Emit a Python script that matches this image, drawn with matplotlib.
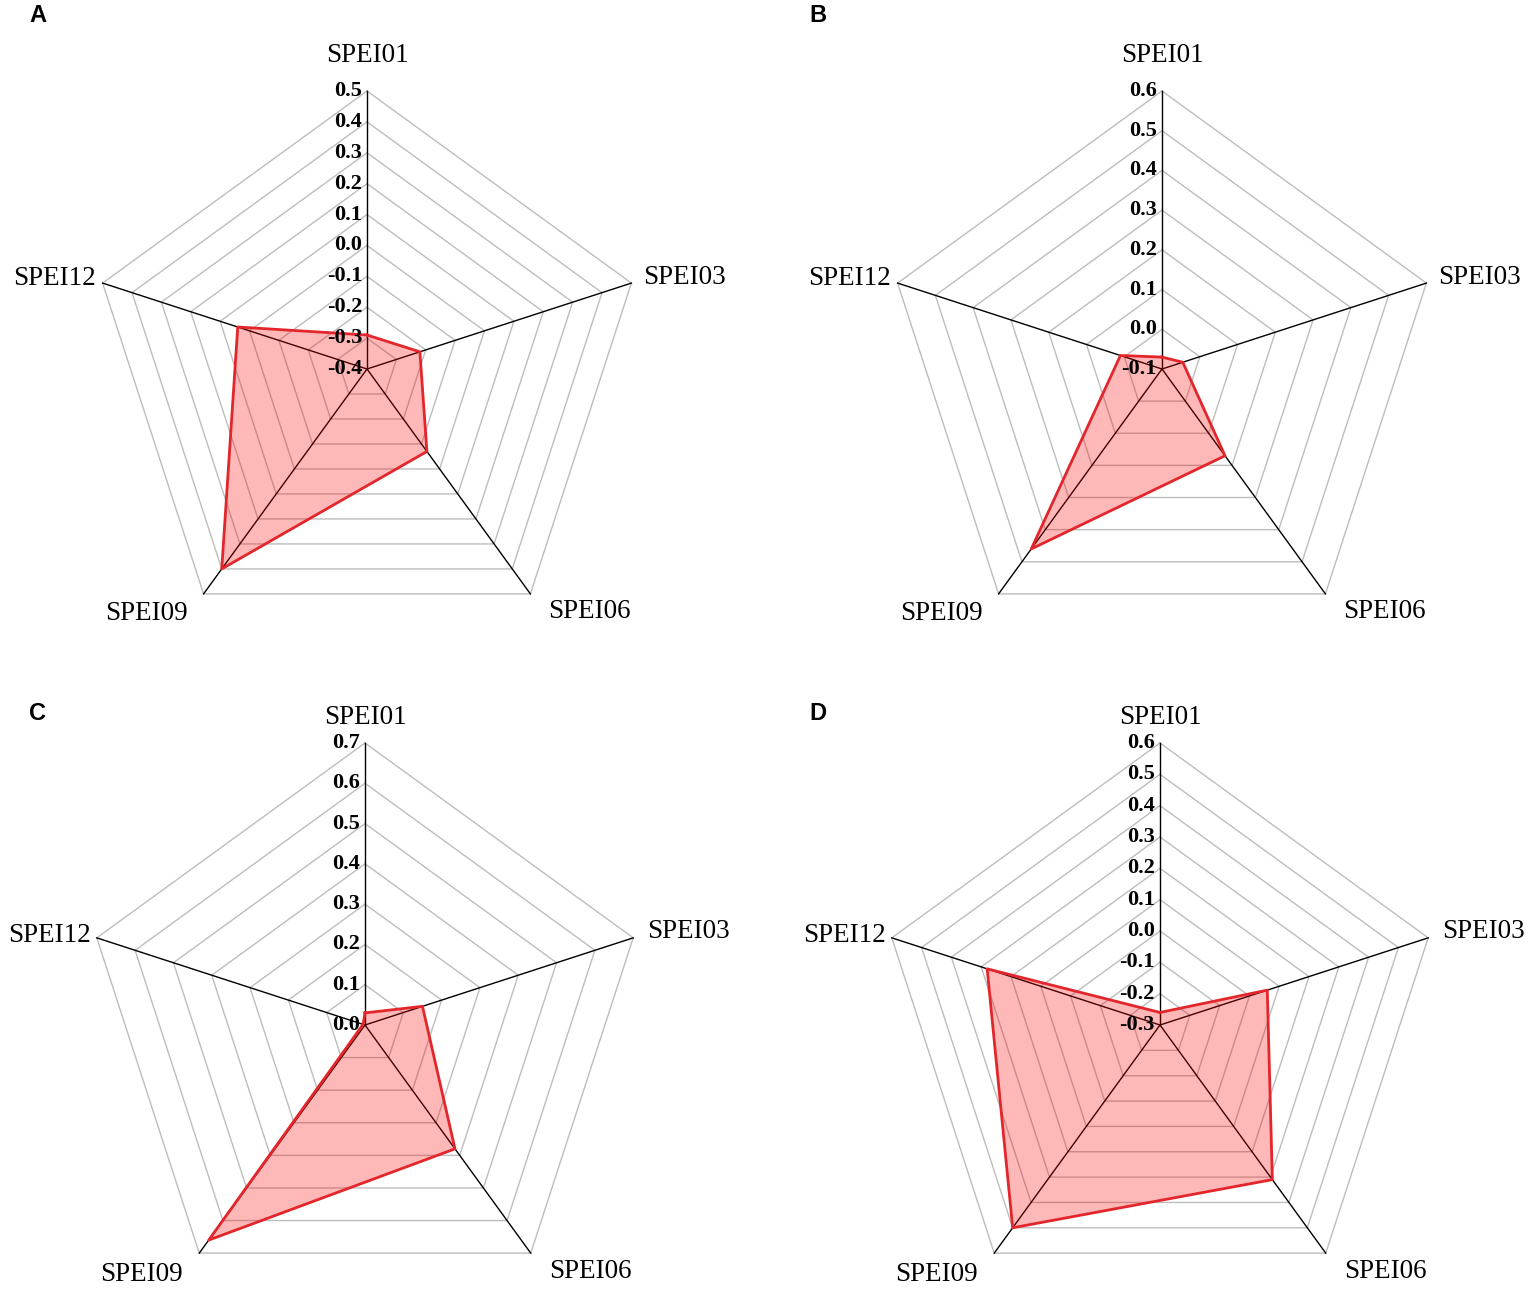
"""
Radar charts of correlation with SPEI at several time scales (panels A-D).
"""

import numpy as np
import matplotlib
matplotlib.use("Agg")
import matplotlib.pyplot as plt

# --- data ---
AXIS_LABELS = ["SPEI01", "SPEI03", "SPEI06", "SPEI09", "SPEI12"]

vals_a = [-0.29, -0.22, -0.07, 0.40, 0.04]
vals_b = [-0.07, -0.045, 0.17, 0.46, 0.01]
vals_c = [0.03, 0.15, 0.38, 0.66, 0.005]
vals_d = [-0.26, 0.06, 0.31, 0.50, 0.28]

ticks_a = [-0.4, -0.3, -0.2, -0.1, 0.0, 0.1, 0.2, 0.3, 0.4, 0.5]
ticks_b = [-0.1, 0.0, 0.1, 0.2, 0.3, 0.4, 0.5, 0.6]
ticks_c = [0.0, 0.1, 0.2, 0.3, 0.4, 0.5, 0.6, 0.7]
ticks_d = [-0.3, -0.2, -0.1, 0.0, 0.1, 0.2, 0.3, 0.4, 0.5, 0.6]

PANELS = ["A", "B", "C", "D"]

# --- layout (pixels) ---
W, H = 1535, 1294
CENTERS = [(367, 369), (1162, 369), (365, 1025), (1160, 1025)]
RADII = [278, 278, 282, 282]
LETTER_POS = [(38, 16), (818, 16), (38, 713), (818, 713)]

SERIF = ["Liberation Serif", "DejaVu Serif"]
GRID_COLOR = "#bdbdbd"
LINE_RED = "#e3262b"

# label offsets from outer vertex (pixels), alignment; top row / bottom row
OFFSETS_TOP = [
    ((0, 35), "center"),
    ((12, 6), "left"),
    ((18, -18), "left"),
    ((-16, -20), "right"),
    ((-7, 5), "right"),
]
OFFSETS_BOTTOM = [
    ((0, 25), "center"),
    ((14, 6), "left"),
    ((18, -18), "left"),
    ((-16, -21), "right"),
    ((-6, 2), "right"),
]


def draw_radar(fig, center, radius, values, ticks, letter, letter_pos, offsets):
    cx, cy = center
    left = (cx - radius) / W
    bottom = (H - cy - radius) / H
    ax = fig.add_axes([left, bottom, 2 * radius / W, 2 * radius / H], projection="polar")
    ax.set_theta_offset(np.pi / 2)
    ax.set_theta_direction(-1)
    rmin, rmax = ticks[0], ticks[-1]
    ax.set_ylim(rmin, rmax)
    ax.grid(False)
    ax.set_xticks([])
    ax.set_yticks([])
    ax.spines["polar"].set_visible(False)
    ax.patch.set_alpha(0)

    n = len(AXIS_LABELS)
    angles = np.arange(n) * 2 * np.pi / n
    closed = np.append(angles, angles[0])

    # pentagon grid
    for t in ticks[1:]:
        ax.plot(closed, [t] * (n + 1), color=GRID_COLOR, lw=1.0, zorder=1, clip_on=False)

    # spokes
    for a in angles:
        ax.plot([a, a], [rmin, rmax], color="black", lw=1.0, zorder=2, clip_on=False)

    # data polygon
    v = np.append(values, values[0])
    ax.fill(closed, v, color="red", alpha=0.28, lw=0, zorder=3)
    ax.plot(closed, v, color=LINE_RED, lw=2.0, zorder=4)

    # radial tick labels along the top axis
    for t in ticks:
        ax.annotate(f"{t:.1f}", xy=(0, t), xytext=(-5, 0), textcoords="offset pixels",
                    ha="right", va="center", fontsize=16, fontweight="bold",
                    family=SERIF, zorder=5, annotation_clip=False)

    # axis labels
    for a, lab, (off, ha) in zip(angles, AXIS_LABELS, offsets):
        ax.annotate(lab, xy=(a, rmax), xytext=off, textcoords="offset pixels",
                    ha=ha, va="center", fontsize=19.5, family=SERIF,
                    annotation_clip=False)

    fig.text(letter_pos[0] / W, 1 - letter_pos[1] / H, letter, ha="center", va="center",
             fontsize=17, fontweight="bold", family=["Liberation Sans", "DejaVu Sans"])


def main():
    fig = plt.figure(figsize=(W / 100, H / 100), dpi=100)
    all_vals = [vals_a, vals_b, vals_c, vals_d]
    all_ticks = [ticks_a, ticks_b, ticks_c, ticks_d]
    for i in range(4):
        offs = OFFSETS_TOP if i < 2 else OFFSETS_BOTTOM
        draw_radar(fig, CENTERS[i], RADII[i], all_vals[i], all_ticks[i],
                   PANELS[i], LETTER_POS[i], offs)
    fig.savefig("out.png", dpi=100)


if __name__ == "__main__":
    main()
